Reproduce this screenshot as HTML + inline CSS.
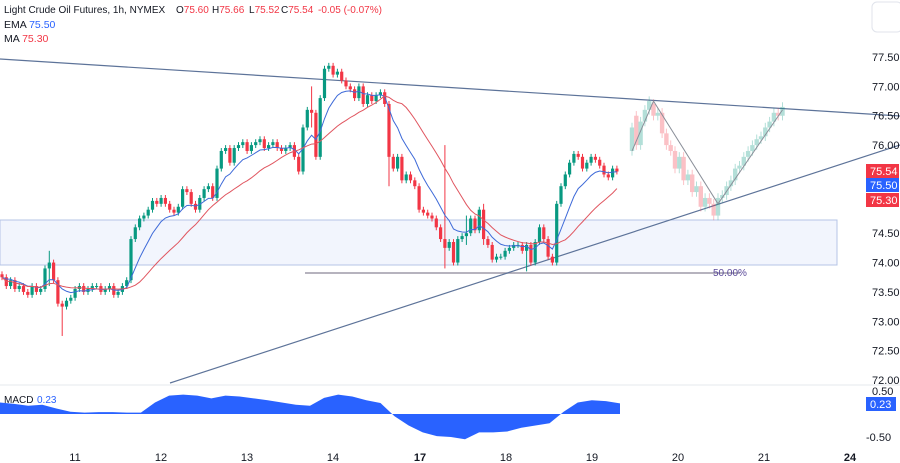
<!DOCTYPE html>
<html><head><meta charset="utf-8"><style>
body{margin:0;background:#fff;font-family:"Liberation Sans",sans-serif}
svg{display:block}
</style></head><body>
<svg id="c" width="900" height="463" xmlns="http://www.w3.org/2000/svg"></svg>
<script>
const closes=[73.75,73.6,73.7,73.55,73.6,73.5,73.45,73.6,73.5,73.55,
73.9,74.0,73.7,73.3,73.25,
73.35,73.4,73.55,73.6,73.5,73.55,73.6,73.6,73.5,73.55,73.6,73.45,73.5,73.6,
73.7,74.4,74.6,74.75,74.8,
74.9,75.05,75.0,75.1,75.0,74.9,74.85,74.95,75.25,75.2,75.0,74.9,
75.1,75.25,75.3,75.1,75.6,75.9,75.95,
75.7,75.95,76.0,76.05,75.9,76.0,76.05,76.1,75.95,76.0,76.05,75.95,75.9,75.95,76.0,75.8,
75.55,76.3,76.6,76.55,75.8,76.8,77.3,
77.35,77.2,77.25,77.1,77.0,76.95,76.8,77.0,76.7,76.85,76.75,76.85,76.9,
76.7,75.8,75.6,75.8,75.4,75.5,75.4,
75.3,74.9,74.85,74.8,74.75,74.6,74.4,74.25,74.35,74.0,
74.4,74.45,74.5,74.75,74.55,74.9,74.4,
74.3,74.05,74.1,74.1,74.2,74.25,74.3,74.3,74.2,74.3,74.0,74.35,74.6,74.4,
74.1,74.0,75.0,75.3,75.5,75.7,
75.85,75.8,75.6,75.7,75.8,75.75,75.65,75.5,75.45,75.6,75.55];
const extraIdx=[11,14,72,75,90,103,108,112,122];
const extraHi=[74.2,73.3,77.0,77.35,75.9,76.0,74.8,75.0,74.3];
const extraLo=[73.6,72.75,76.3,76.8,75.3,73.9,74.3,74.3,73.85];
const projOpens=[75.9,76.5,76.0,76.4,76.6,76.7,76.5,76.55,76.2,76.0,75.9,75.6,75.8,75.4,75.5,75.2,75.3,74.95,75.1,75.0,74.8,75.1,75.15,75.3,75.4,75.6,75.65,75.8,75.9,76.0,76.1,76.15,76.3,76.4,76.55,76.5];
const projCloses=[76.3,76.0,76.4,76.6,76.75,76.5,76.55,76.2,76.0,75.9,75.6,75.8,75.4,75.5,75.2,75.3,74.95,75.1,75.0,74.8,75.1,75.15,75.3,75.4,75.6,75.65,75.8,75.9,76.0,76.1,76.15,76.3,76.4,76.55,76.5,76.65];
const projPath=[75.9,76.75,75.0,76.6];
const projPathIdx=[0,5,20,35];
const macd=[0.25,0.22,0.18,0.2,0.12,0.05,0.03,0.04,0.04,0.03,0.03,0.25,0.4,0.42,0.4,0.34,0.4,0.38,0.34,0.3,0.25,0.2,0.18,0.35,0.42,0.38,0.3,0.24,-0.05,-0.25,-0.4,-0.48,-0.5,-0.55,-0.4,-0.4,-0.38,-0.3,-0.25,-0.2,0.05,0.25,0.3,0.28,0.23];
const priceTicks=["77.50","77.00","76.50","76.00","74.50","74.00","73.50","73.00","72.50","72.00"];
const dayLabels=["11","12","13","14","17","18","19","20","21","24"];
const dayX=[75,161,247,333,420,506,592,678,764,850];

const S=document.getElementById('c');const NS="http://www.w3.org/2000/svg";
function el(t,a,p){const e=document.createElementNS(NS,t);for(const k in a)e.setAttribute(k,a[k]);(p||S).appendChild(e);return e;}
const yP=p=>57+(77.5-p)*58.73;
const xI=i=>2+i*4.3;
const yM=v=>414-v*46;
const xMacd=i=>i*(620/(macd.length-1));

let r=el('rect',{x:0,y:220,width:837,height:45,fill:'#f2f5fd',stroke:'#b5c4e6','stroke-width':1});

let l=el('line',{x1:305,y1:273,x2:740,y2:273,stroke:'#9e9aa8','stroke-width':1.5});

let t=el('text',{x:713,y:276,'font-size':10,fill:'#5b4a9a'});t.textContent='50.00%';

l=el('line',{x1:0,y1:59,x2:900,y2:116,stroke:'#5d7399','stroke-width':1.2});

l=el('line',{x1:170,y1:383,x2:900,y2:145,stroke:'#5d7399','stroke-width':1.2});


const g=el('g',{});
closes.forEach((c,i)=>{
 const o=i?closes[i-1]:c+0.05;let hi=Math.max(o,c)+0.05,lo=Math.min(o,c)-0.05;
 const k=extraIdx.indexOf(i);if(k>=0){hi=Math.max(hi,extraHi[k]);lo=Math.min(lo,extraLo[k]);}
 const col=c>=o?'#089981':'#f23645';const x=xI(i);
 el('line',{x1:x,y1:yP(hi),x2:x,y2:yP(lo),stroke:col,'stroke-width':1},g);
 const y1=yP(Math.max(o,c)),y2=yP(Math.min(o,c));
 const b=el('rect',{x:x-1.6,y:y1,width:3.2,height:Math.max(1,y2-y1),fill:col},g);
 
});
const pg=el('g',{opacity:0.3});
const xP=i=>632+i*4.3;
projCloses.forEach((c,i)=>{
 const o=projOpens[i];const col=c>=o?'#089981':'#f23645';const x=xP(i);
 el('line',{x1:x,y1:yP(Math.max(o,c)+0.08),x2:x,y2:yP(Math.min(o,c)-0.08),stroke:col},pg);
 const y1=yP(Math.max(o,c)),y2=yP(Math.min(o,c));
 el('rect',{x:x-2.2,y:y1,width:4.4,height:Math.max(1.5,y2-y1),fill:col},pg);
});
let pp=el('polyline',{points:projPath.map((p,k)=>xP(projPathIdx[k])+','+yP(p)).join(' '),fill:'none',stroke:'#8a8f99','stroke-width':1});


let ema=[],e=closes[0];closes.forEach((c,i)=>{e=i?e+(c-e)*0.2:c;ema.push(e);});
let ma=closes.map((c,i)=>{const s=closes.slice(Math.max(0,i-19),i+1);return s.reduce((a,b)=>a+b,0)/s.length;});
let pe=el('polyline',{points:ema.map((v,i)=>xI(i)+','+yP(v)).join(' '),fill:'none',stroke:'#3e6ad8','stroke-width':1});

let pm=el('polyline',{points:ma.map((v,i)=>xI(i)+','+yP(v)).join(' '),fill:'none',stroke:'#e0555f','stroke-width':1});


priceTicks.forEach(s=>{const tt=el('text',{x:872,y:yP(parseFloat(s))+4,'font-size':11,fill:'#131722'});tt.textContent=s;
});
[['75.54','#f23645',171],['75.50','#2962ff',185],['75.30','#f23645',200]].forEach(([s,c,y])=>{
 const gg=el('g',{});
 el('rect',{x:866,y:y-7,width:33,height:14,fill:c},gg);
 const tt=el('text',{x:870,y:y+4,'font-size':11,fill:'#fff'},gg);tt.textContent=s;});

el('line',{x1:0,y1:385,x2:900,y2:385,stroke:'#e6e8ee'});
let mp=el('polygon',{points:'0,'+yM(0)+' '+macd.map((v,i)=>xMacd(i)+','+yM(v)).join(' ')+' 620,'+yM(0),fill:'#2962ff'});

[['0.50',0.5],['-0.50',-0.5]].forEach(([s,v])=>{const tt=el('text',{x:s[0]=='-'?866:872,y:yM(v)+4,'font-size':11,fill:'#131722'});tt.textContent=s;
});
let mg=el('g',{});
el('rect',{x:866,y:397,width:30,height:14,fill:'#2962ff'},mg);
t=el('text',{x:870,y:408,'font-size':11,fill:'#fff'},mg);t.textContent='0.23';
t=el('text',{x:4,y:403,'font-size':10,fill:'#131722'});t.textContent='MACD';

t=el('text',{x:37,y:403,'font-size':10,fill:'#2962ff'});t.textContent='0.23';

dayLabels.forEach((s,i)=>{const tt=el('text',{x:dayX[i],y:461,'font-size':11,fill:'#131722','text-anchor':'middle','font-weight':(s=='17'||s=='24')?'bold':'normal'});tt.textContent=s;
});

let lg=el('text',{x:4,y:13,'font-size':10,fill:'#131722'});
lg.innerHTML='Light Crude Oil Futures, 1h, NYMEX<tspan x="176">O</tspan><tspan fill="#f23645">75.60</tspan><tspan x="212">H</tspan><tspan fill="#f23645">75.66</tspan><tspan x="249">L</tspan><tspan fill="#f23645">75.52</tspan><tspan x="281">C</tspan><tspan fill="#f23645">75.54</tspan><tspan x="318" fill="#f23645">-0.05 (-0.07%)</tspan>';
t=el('text',{x:4,y:28,'font-size':10.5,fill:'#131722'});t.innerHTML='EMA <tspan fill="#2962ff">75.50</tspan>';

t=el('text',{x:4,y:42,'font-size':10.5,fill:'#131722'});t.innerHTML='MA <tspan fill="#f23645">75.30</tspan>';

let bt=el('rect',{x:872,y:2,width:30,height:30,rx:5,fill:'#fff',stroke:'#e0e3eb'});

</script>
</body></html>
